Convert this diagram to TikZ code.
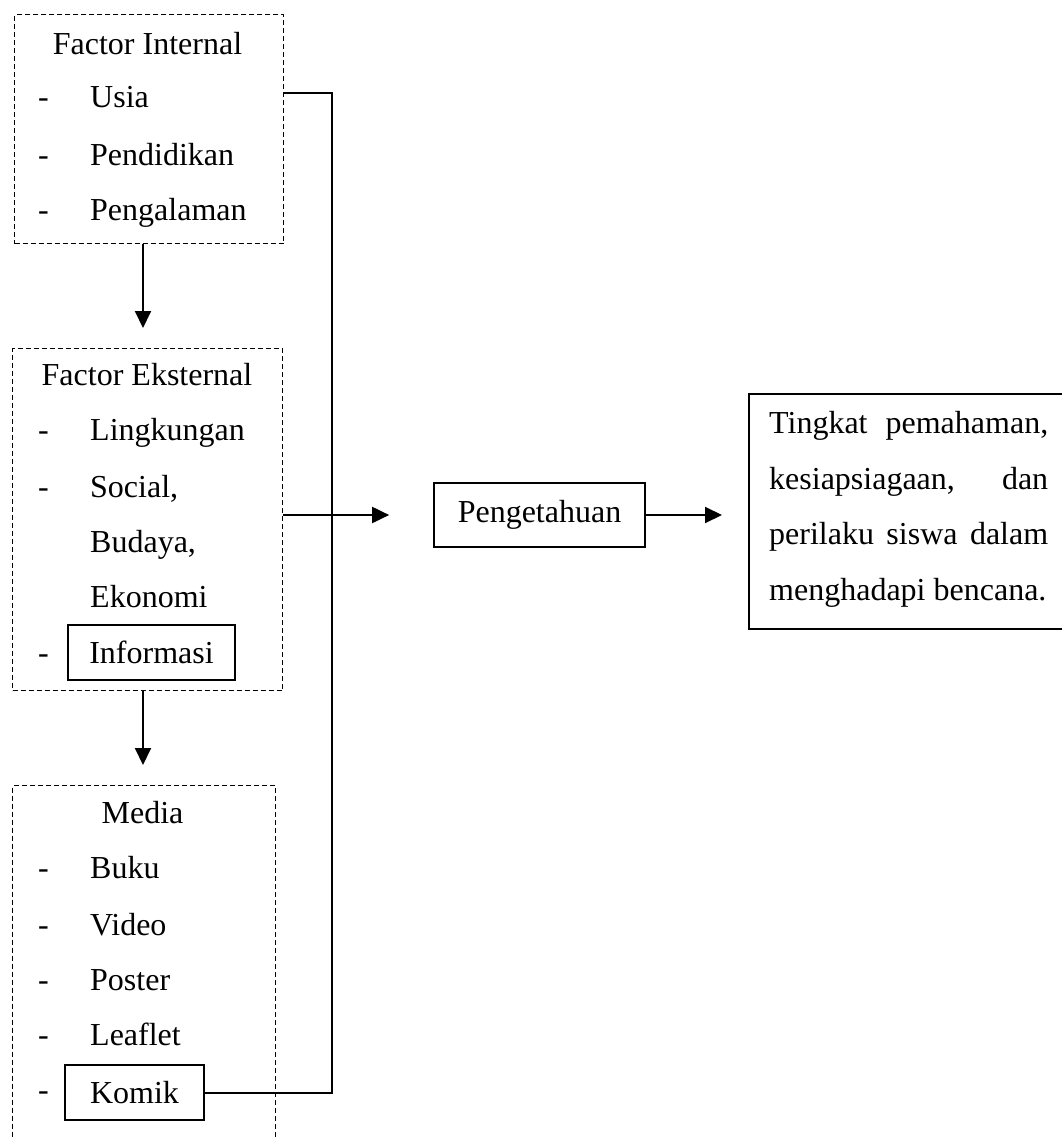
\documentclass[tikz,border=0pt]{standalone}
\usepackage{fontspec}
\setmainfont{Liberation Serif}
\usetikzlibrary{arrows.meta}
\begin{document}
\begin{tikzpicture}[x=1pt,y=-1pt,
  txt/.style={font=\fontsize{32}{55.7}\selectfont, inner sep=0pt},
  dbox/.style={draw, dash pattern=on 5pt off 3pt, line width=1.4pt, anchor=north west, inner sep=0pt},
  sbox/.style={draw, line width=1.7pt, inner sep=0pt, font=\fontsize{32}{55.7}\selectfont},
  conn/.style={draw, line width=2pt},
  arr/.style={conn, -{Triangle[length=17pt,width=16pt]}}]
\useasboundingbox (0,0) rectangle (1062,1137);
\clip (0,0) rectangle (1062,1137);
% dashed group boxes
\node[dbox, minimum width=269pt, minimum height=229pt] (int) at (14,14) {};
\node[dbox, minimum width=270pt, minimum height=342pt] (ext) at (12,348) {};
\node[dbox, minimum width=263pt, minimum height=400pt] (med) at (12,785) {};
% Factor Internal
\node[txt, anchor=base] (intT) at (147.5,55) {Factor Internal};
\node[txt, anchor=base west] (d11) at (38,108) {-};
\node[txt, anchor=base west] (i11) at (90,108) {Usia};
\node[txt, anchor=base west] (d12) at (38,165) {-};
\node[txt, anchor=base west] (i12) at (90,165) {Pendidikan};
\node[txt, anchor=base west] (d13) at (38,220) {-};
\node[txt, anchor=base west] (i13) at (90,220) {Pengalaman};
% Factor Eksternal
\node[txt, anchor=base] (extT) at (147,385) {Factor Eksternal};
\node[txt, anchor=base west] (d21) at (38,440) {-};
\node[txt, anchor=base west] (i21) at (90,440) {Lingkungan};
\node[txt, anchor=base west] (d22) at (38,497) {-};
\node[txt, anchor=base west] (i22) at (90,497) {Social,};
\node[txt, anchor=base west] (i23) at (90,552) {Budaya,};
\node[txt, anchor=base west] (i24) at (90,607) {Ekonomi};
\node[txt, anchor=base west] (d25) at (38,663) {-};
\node[sbox, minimum width=167pt, minimum height=55pt] (info) at (151.5,652.5) {Informasi};
% Media
\node[txt, anchor=base] (medT) at (142.5,823) {Media};
\node[txt, anchor=base west] (d31) at (38,878) {-};
\node[txt, anchor=base west] (i31) at (90,878) {Buku};
\node[txt, anchor=base west] (d32) at (38,935) {-};
\node[txt, anchor=base west] (i32) at (90,935) {Video};
\node[txt, anchor=base west] (d33) at (38,990) {-};
\node[txt, anchor=base west] (i33) at (90,990) {Poster};
\node[txt, anchor=base west] (d34) at (38,1045) {-};
\node[txt, anchor=base west] (i34) at (90,1045) {Leaflet};
\node[txt, anchor=base west] (d35) at (38,1100) {-};
\node[sbox, minimum width=139pt, minimum height=55pt] (komik) at (134.5,1092.5) {Komik};
% Pengetahuan
\node[sbox, minimum width=211pt, minimum height=64pt] (peng) at (539.5,515) {Pengetahuan};
% outcome box
\node[sbox, anchor=north west, minimum width=330pt, minimum height=235pt] (out) at (748,393) {};
\node[txt, anchor=north west, align=left] (outT) at (769,411) {%
\makebox[279pt][s]{Tingkat pemahaman,}\\
\makebox[279pt][s]{kesiapsiagaan, dan}\\
\makebox[279pt][s]{perilaku siswa dalam}\\
menghadapi bencana.};
% connectors
\coordinate (j1) at (332,93);
\coordinate (a1) at (143,300);
\draw[conn] (int.east |- j1) -- (j1) |- (komik.east);
\draw[arr, shorten >=20pt] (int.south -| a1) -- (ext.north -| a1);
\draw[arr, shorten >=20pt] (ext.south -| a1) -- (med.north -| a1);
\draw[arr, shorten >=44pt] (ext.east |- peng.west) -- (peng.west);
\draw[arr, shorten >=26pt] (peng.east) -- (peng.east -| out.west);
\end{tikzpicture}
\end{document}
